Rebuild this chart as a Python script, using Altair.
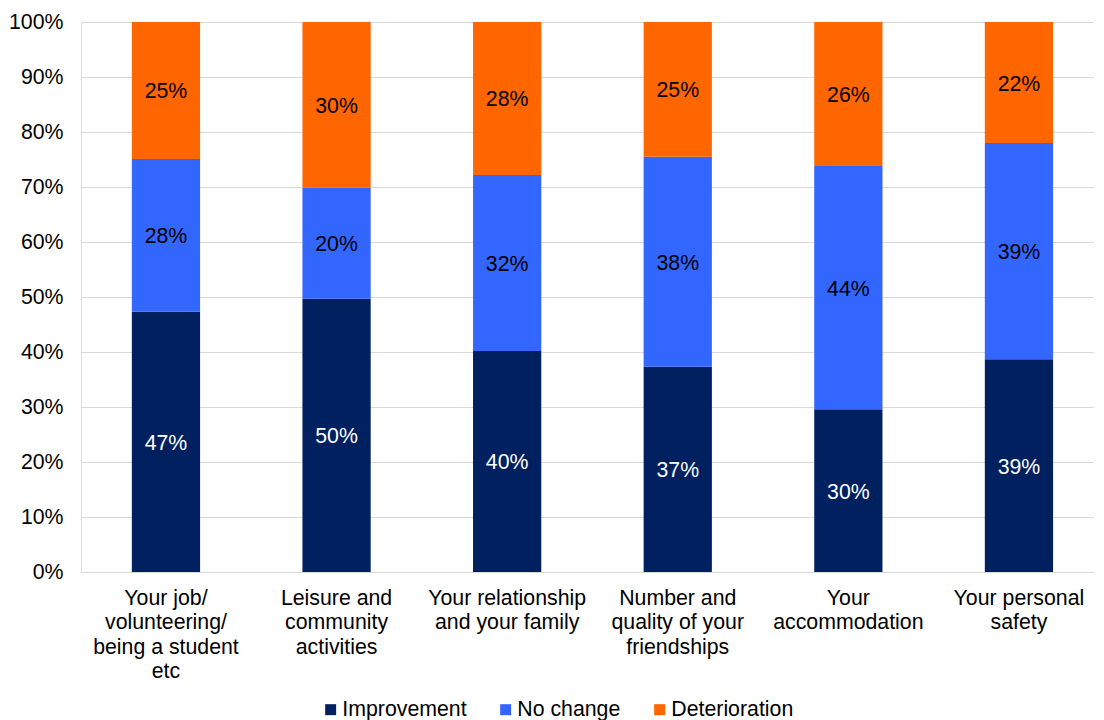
import altair as alt
import pandas as pd

categories = [
    "Your job/\nvolunteering/\nbeing a student\netc",
    "Leisure and\ncommunity\nactivities",
    "Your relationship\nand your family",
    "Number and\nquality of your\nfriendships",
    "Your\naccommodation",
    "Your personal\nsafety",
]
series = ["Improvement", "No change", "Deterioration"]
improvement = [0.473, 0.497, 0.402, 0.373, 0.296, 0.387]
no_change = [0.278, 0.202, 0.320, 0.382, 0.442, 0.393]
deterioration = [0.249, 0.301, 0.278, 0.245, 0.262, 0.220]
colors = ["#002060", "#3366FF", "#FF6600"]

rows = []
for i, c in enumerate(categories):
    for j, (s, vals) in enumerate(zip(series, [improvement, no_change, deterioration])):
        rows.append({"cat": c, "series": s, "idx": j, "value": vals[i]})
df = pd.DataFrame(rows)

FONT = "Liberation Sans"
FS = 21.3

base = alt.Chart(df).transform_stack(
    stack="value", groupby=["cat"], as_=["y0", "y1"], sort=[alt.SortField("idx", order="ascending")]
).transform_calculate(mid="(datum.y0 + datum.y1) / 2")

xscale = alt.Scale(paddingInner=0.6, paddingOuter=0.269, align=0.554)

xenc = alt.X(
    "cat:N",
    sort=categories,
    title=None,
    scale=xscale,
    axis=alt.Axis(
        labelExpr="split(datum.label, '\\n')",
        labelAngle=0,
        labelFontSize=FS,
        labelLineHeight=24.6,
        labelColor="#000000",
        labelFont=FONT,
        labelPadding=15,
        labelBaseline="top",
        ticks=False,
        domain=False,
        grid=False,
        labelLimit=300,
    ),
)

bars = base.mark_bar().encode(
    x=xenc,
    y=alt.Y(
        "y0:Q",
        scale=alt.Scale(domain=[0, 1], nice=False),
        title=None,
        axis=alt.Axis(
            format=".0%",
            values=[i / 10 for i in range(11)],
            labelFontSize=FS,
            labelFont=FONT,
            labelColor="#000000",
            labelPadding=18,
            ticks=False,
            domain=False,
            gridColor="#d9d9d9",
            gridWidth=1.2,
        ),
    ),
    y2="y1:Q",
    color=alt.Color(
        "series:N",
        sort=series,
        scale=alt.Scale(domain=series, range=colors),
        legend=alt.Legend(
            title=None,
            orient="none",
            legendX=239,
            legendY=677,
            direction="horizontal",
            symbolType="square",
            symbolSize=121,
            symbolStrokeWidth=0,
            labelFontSize=FS,
            labelFont=FONT,
            labelColor="#000000",
            columnPadding=28,
            labelOffset=1,
        ),
    ),
)

text = base.mark_text(fontSize=FS, font=FONT, dy=2).encode(
    x=alt.X("cat:N", sort=categories, scale=xscale),
    y=alt.Y("mid:Q"),
    text=alt.Text("value:Q", format=".0%"),
    color=alt.condition(alt.datum.series == "Improvement", alt.value("#ffffff"), alt.value("#000000")),
)

chart = alt.layer(bars, text).properties(width=1013, height=550).configure_view(
    strokeWidth=0
).configure(padding={"left": 0, "top": 3, "right": 0, "bottom": 0})

chart.save("out.html", embed_options={"renderer": "svg", "actions": False})
